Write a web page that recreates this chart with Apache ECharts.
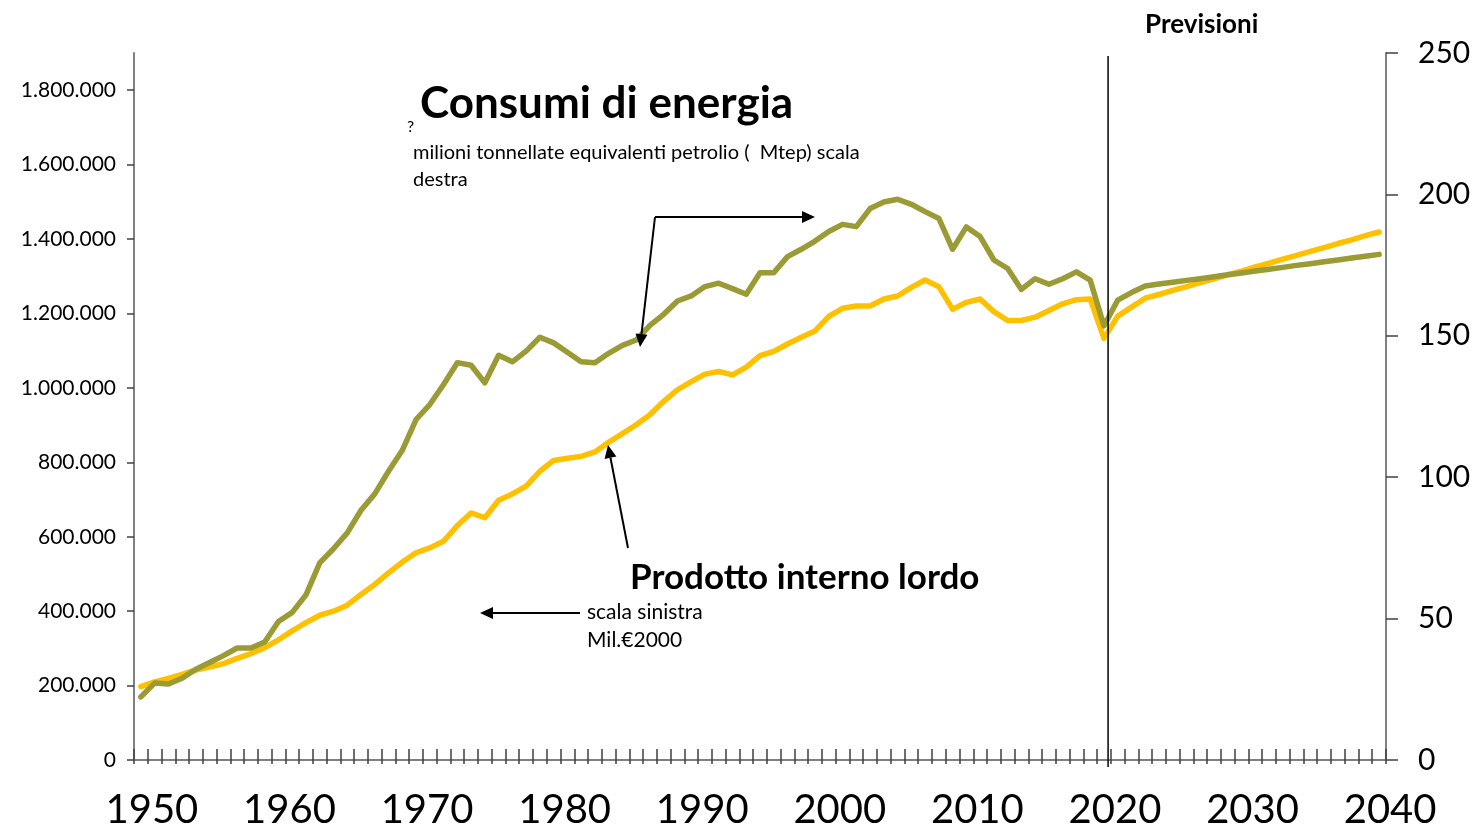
<!DOCTYPE html>
<html>
<head>
<meta charset="utf-8">
<script src="https://cdn.jsdelivr.net/npm/echarts@6/dist/echarts.min.js"></script>
<style>
html,body{margin:0;padding:0;background:#fff;}
#chart{width:1476px;height:830px;}
</style>
</head>
<body>
<div id="chart"></div>
<script>
const years = ['1950','1951','1952','1953','1954','1955','1956','1957','1958','1959',
'1960','1961','1962','1963','1964','1965','1966','1967','1968','1969',
'1970','1971','1972','1973','1974','1975','1976','1977','1978','1979',
'1980','1981','1982','1983','1984','1985','1986','1987','1988','1989',
'1990','1991','1992','1993','1994','1995','1996','1997','1998','1999',
'2000','2001','2002','2003','2004','2005','2006','2007','2008','2009',
'2010','2011','2012','2013','2014','2015','2016','2017','2018','2019',
'2020','2021','2022','2023','2024','2025','2026','2027','2028','2029',
'2030','2031','2032','2033','2034','2035','2036','2037','2038','2039','2040'];

// Prodotto interno lordo, Mil.€2000 (scala sinistra)
const gdp = [197000,210000,219000,230000,242000,250000,259000,273000,286000,302000,
323000,347000,369000,389000,400000,416000,445000,472000,503000,532000,
557000,570000,588000,630000,664000,651000,698000,715000,736000,776000,
805000,811000,816000,828000,854000,877000,901000,928000,964000,995000,
1017000,1037000,1044000,1035000,1056000,1087000,1098000,1118000,1136000,1153000,
1192000,1214000,1220000,1220000,1239000,1247000,1270000,1290000,1272000,1211000,
1230000,1239000,1205000,1181000,1181000,1190000,1208000,1226000,1237000,1239000,
1133000,1193000,1217000,1241000,1251000,1262000,1272000,1283000,1293000,1304000,
1314000,1325000,1335000,1346000,1356000,1367000,1377000,1388000,1398000,1409000,1419000];

// Consumi di energia, Mtep (scala destra)
const energy = [22.3,27.2,26.9,28.9,32.1,34.5,36.9,39.6,39.6,41.7,
49.0,52.2,58.4,69.7,74.7,80.3,88.3,94.1,102.1,109.5,
120.4,125.7,132.8,140.5,139.6,133.4,143.1,140.8,144.6,149.5,
147.5,144.2,140.8,140.5,143.8,146.6,148.5,153.7,157.6,162.3,
164.1,167.4,168.6,166.7,164.7,172.3,172.3,178.0,180.6,183.5,
186.9,189.4,188.6,195.0,197.3,198.3,196.5,193.9,191.5,180.6,
188.5,185.1,176.8,173.8,166.4,170.2,168.2,170.2,172.6,169.7,
153.5,162.6,165.3,167.6,168.3,168.9,169.6,170.2,170.9,171.6,
172.2,172.9,173.5,174.2,174.9,175.5,176.2,176.8,177.5,178.1,178.8];

const leftTicks = {min:0, max:1900000, interval:200000};
const rightTicks = {min:0, max:250, interval:50};
const forecastStart = '2020';

const FONT = 'Lato';
const chart = echarts.init(document.getElementById('chart'), null, {renderer:'canvas'});

function fmtDots(v){
  return String(v).replace(/\B(?=(\d{3})+(?!\d))/g, '.');
}

chart.setOption({
  animation:false,
  backgroundColor:'#fff',
  grid:{left:134, right:90, top:53, bottom:69},
  xAxis:[{
    type:'category', data:years, boundaryGap:true, position:'bottom',
    axisLine:{show:true, lineStyle:{color:'#808080', width:2}},
    axisTick:{show:true, interval:0, length:4, lineStyle:{color:'#404040', width:1.5}},
    axisLabel:{interval:9, fontSize:40, fontFamily:FONT, color:'#000', margin:30, padding:[0,0,0,22]},
    splitLine:{show:false}
  },{
    type:'category', data:years, boundaryGap:true, position:'bottom', offset:0,
    axisLine:{show:false},
    axisTick:{show:true, inside:true, interval:0, length:11, lineStyle:{color:'#404040', width:1.5}},
    axisLabel:{show:false},
    splitLine:{show:false}
  }],
  yAxis:[{
    type:'value', position:'left', min:leftTicks.min, max:leftTicks.max, interval:leftTicks.interval,
    axisLine:{show:true, lineStyle:{color:'#808080', width:2}},
    axisTick:{show:true, length:7, lineStyle:{color:'#404040', width:1.5}},
    axisLabel:{fontSize:21, fontFamily:FONT, color:'#000', margin:18, showMaxLabel:false,
      formatter:function(v){ return v > 1800000 ? '' : fmtDots(v); }},
    splitLine:{show:false}
  },{
    type:'value', position:'right', min:rightTicks.min, max:rightTicks.max, interval:rightTicks.interval,
    axisLine:{show:true, lineStyle:{color:'#808080', width:2}},
    axisTick:{show:true, length:12, lineStyle:{color:'#404040', width:1.5}},
    axisLabel:{fontSize:30, fontFamily:FONT, color:'#000', margin:32},
    splitLine:{show:false}
  }],
  series:[{
    name:'Prodotto interno lordo', type:'line', xAxisIndex:0, yAxisIndex:0, data:gdp,
    showSymbol:false, symbol:'none', smooth:false,
    lineStyle:{color:'#FFC000', width:5.5, cap:'round', join:'round'}
  },{
    name:'Consumi di energia', type:'line', xAxisIndex:0, yAxisIndex:1, data:energy,
    showSymbol:false, symbol:'none', smooth:false,
    lineStyle:{color:'#9A9B35', width:5.5, cap:'round', join:'round'}
  }]
});

function arrow(x1,y1,x2,y2){
  const dx=x2-x1, dy=y2-y1, L=Math.sqrt(dx*dx+dy*dy);
  const ux=dx/L, uy=dy/L, hl=13, hw=6;
  const bx=x2-ux*hl, by=y2-uy*hl;
  return [
    {type:'line', silent:true, z:50, shape:{x1:x1,y1:y1,x2:bx,y2:by}, style:{stroke:'#000', lineWidth:2}},
    {type:'polygon', silent:true, z:50, shape:{points:[[x2,y2],[bx-uy*hw,by+ux*hw],[bx+uy*hw,by-ux*hw]]}, style:{fill:'#000'}}
  ];
}
function txt(s,x,y,size,bold){
  return {type:'text', silent:true, z:50, x:x, y:y,
    style:{text:s, fontSize:size, fontWeight:bold?'bold':'normal', fontFamily:FONT, fill:'#000', align:'left', verticalAlign:'middle'}};
}

const i0 = years.indexOf(forecastStart);
const p0 = chart.convertToPixel({xAxisIndex:0}, years[i0]);
const p1 = chart.convertToPixel({xAxisIndex:0}, years[i0+1]);
const vx = p0 + 0.3*(p1-p0);

let g = [];
g.push({type:'line', silent:true, z:40, shape:{x1:vx,y1:56,x2:vx,y2:767}, style:{stroke:'#000', lineWidth:1.5}});
g.push(txt('Previsioni',1145,25,26,true));
g.push(txt('Consumi di energia',420,104,44,true));
g.push(txt('?',407,127,16,false));
g.push(txt('milioni tonnellate equivalenti petrolio (  Mtep) scala',413,153,20,false));
g.push(txt('destra',413,180,20,false));
g.push(txt('Prodotto interno lordo',630,578,35,true));
g.push(txt('scala sinistra',587,612,21,false));
g.push(txt('Mil.€2000',587,640,21,false));
g = g.concat(arrow(655,217,815,217));
g = g.concat(arrow(655,217,640,347));
g = g.concat(arrow(628,548,608,445));
g = g.concat(arrow(580,613,480,613));
chart.setOption({graphic:g});
</script>
</body>
</html>
